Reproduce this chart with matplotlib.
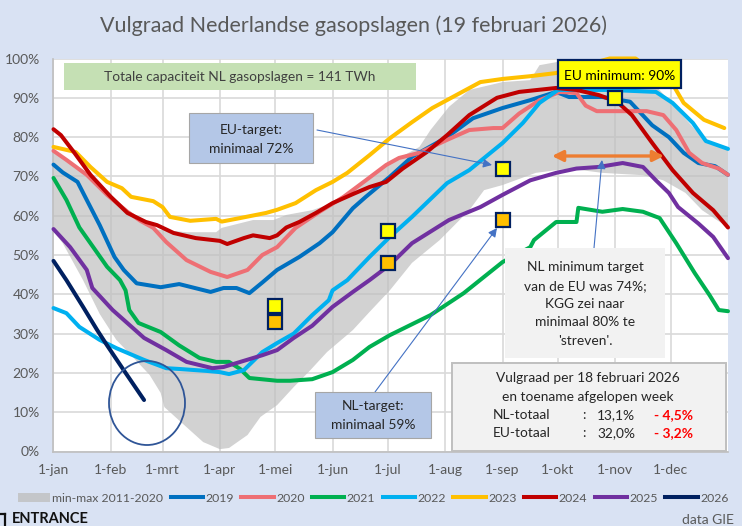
import numpy as np
import matplotlib
matplotlib.use('Agg')
import matplotlib.pyplot as plt
from matplotlib.patches import Rectangle, Ellipse
from matplotlib.lines import Line2D

## -- DATA -- ##

month_days = [0, 31, 59, 90, 120, 151, 181, 212, 243, 273, 304, 334]
month_labels = ['1-jan', '1-feb', '1-mrt', '1-apr', '1-mei', '1-jun', '1-jul', '1-aug', '1-sep', '1-okt', '1-nov', '1-dec']
pct_ticks = [0, 10, 20, 30, 40, 50, 60, 70, 80, 90, 100]

band_up_d = [0, 18, 40, 56, 72, 88, 91, 108, 119, 126, 140, 151, 160, 171, 182, 198, 204, 214, 225, 243, 258, 263, 283, 300, 315, 324, 333, 344, 353, 365]
band_up_v = [76, 71, 61.5, 56.5, 55.8, 55.8, 56.9, 58.9, 58.9, 60.2, 61.4, 63.2, 65.8, 70, 73.4, 77.5, 81.8, 87.7, 92, 94, 94.5, 98.3, 100, 98, 96, 94, 89.4, 83.6, 79, 76.7]
band_lo_d = [0, 5, 16, 25, 34, 43, 52, 58, 60, 72, 81, 90, 95, 105, 112, 121, 130, 139, 148, 162, 171, 182, 194, 209, 225, 233, 243, 261, 279, 297, 319, 330, 342, 351, 365]
band_lo_v = [56, 53, 43.6, 35, 28.4, 24, 19.5, 14.9, 11.3, 6.2, 2.4, 0.6, 0.9, 4.2, 8.8, 11.8, 16.4, 20.7, 25.3, 30.9, 35.5, 41, 48, 53.8, 61.4, 66.5, 67.8, 70.9, 72, 70.9, 70.3, 69, 65.8, 61.4, 57]

d_2019 = [0, 5, 13, 18, 25, 33, 38, 45, 58, 68, 85, 92, 99, 106, 113, 121, 133, 144, 151, 162, 169, 182, 194, 213, 227, 243, 258, 272, 279, 297, 312, 324, 333, 341, 349, 358, 365]
v_2019 = [73, 71, 68.6, 64, 57.6, 49.5, 46.2, 42.8, 41.8, 42.6, 40.6, 41.6, 41.6, 40.3, 43, 46.2, 49.5, 53, 55.8, 61.9, 64.8, 69.9, 75, 80, 84.8, 87.4, 89.4, 91.5, 90.2, 90.2, 89, 83, 80, 76, 73.4, 72.6, 70.4]

d_2020 = [0, 7, 18, 29, 40, 47, 54, 61, 72, 85, 94, 105, 113, 121, 131, 144, 157, 169, 180, 187, 198, 213, 225, 238, 243, 252, 263, 274, 283, 288, 294, 305, 321, 330, 337, 344, 351, 360, 365]
v_2020 = [76.5, 74.2, 70.4, 65.3, 61, 58.7, 56.9, 53.3, 48.7, 45.7, 44.4, 46.2, 50, 52, 56.9, 61, 64.8, 69, 72.9, 74.7, 76, 79.3, 81.8, 82.3, 82.3, 86, 89.4, 91.5, 91.2, 88, 86.6, 86.6, 86.6, 85.6, 81.8, 76, 73.4, 72, 70.4]

d_2021 = [0, 7, 14, 20, 29, 36, 39, 41, 46, 58, 68, 79, 88, 95, 101, 106, 121, 128, 140, 151, 162, 171, 182, 204, 222, 243, 258, 260, 272, 283, 284, 297, 308, 319, 328, 337, 347, 355, 360, 365]
v_2021 = [69.6, 64, 57, 53, 47, 43.6, 41, 36, 32.7, 30.4, 27, 23.8, 22.8, 22.8, 21, 18.7, 18, 18, 18.4, 20.2, 23.3, 26.6, 29.6, 34.7, 40.3, 48.2, 52, 53.8, 58.4, 58.4, 62, 61, 61.7, 61, 59.4, 53, 45.4, 39.8, 36, 35.7]

d_2022 = [0, 7, 14, 25, 34, 49, 61, 68, 83, 90, 95, 103, 113, 121, 130, 140, 149, 151, 159, 171, 182, 194, 213, 225, 243, 254, 263, 273, 279, 301, 326, 335, 346, 353, 365]
v_2022 = [36.5, 35.2, 31.7, 28.4, 26.3, 23.3, 21.2, 21, 20.5, 20.2, 19.7, 20.7, 25.3, 27.6, 30, 34.7, 38.5, 41, 43.6, 49.5, 54.6, 59.7, 68.3, 71.6, 78.5, 83.6, 88.7, 92, 92, 92, 91.5, 88.7, 83.6, 79, 77]

d_2023 = [0, 12, 20, 29, 37, 42, 54, 59, 63, 74, 88, 91, 101, 115, 121, 131, 142, 151, 159, 171, 182, 194, 205, 218, 231, 243, 258, 272, 301, 315, 336, 341, 352, 363]
v_2023 = [77.5, 76.2, 72.4, 68.6, 67, 64.8, 63.7, 62.2, 59.7, 58.7, 59.2, 58.5, 59.4, 60.7, 61.5, 63.2, 66.5, 68.6, 70.9, 75.4, 79.7, 83.8, 87.4, 90.7, 94, 94.8, 95.5, 96.3, 100, 100, 92.7, 88.7, 84.4, 82.3]

d_2024 = [0, 4, 11, 20, 31, 40, 50, 56, 65, 77, 90, 94, 103, 108, 117, 121, 126, 133, 142, 151, 162, 171, 180, 189, 202, 213, 225, 240, 252, 272, 283, 295, 305, 313, 324, 335, 346, 357, 365]
v_2024 = [82, 80.5, 76.2, 70.4, 64.8, 60.7, 58.4, 57.6, 55.6, 54.3, 53.6, 52.8, 54.3, 55, 54.3, 55, 57, 58.4, 60.7, 63.2, 65.5, 67.3, 68.6, 72, 76.2, 80.5, 85.6, 90, 91.5, 92.5, 92, 90.7, 89, 85.6, 78.5, 71.6, 65.8, 61.4, 57]

d_2025 = [0, 9, 18, 21, 32, 49, 61, 72, 86, 92, 99, 113, 121, 130, 140, 151, 162, 171, 182, 194, 214, 231, 243, 258, 272, 283, 295, 308, 319, 326, 333, 338, 349, 357, 365]
v_2025 = [56.6, 52, 46.2, 41.6, 36, 28.9, 25.8, 22.8, 21.2, 21.5, 22.5, 24.5, 25.8, 28.9, 32, 36.8, 40.6, 43.6, 47.5, 53, 58.9, 62.2, 65.3, 69, 70.9, 72, 72.4, 73.4, 72.4, 69, 65.8, 62.2, 58, 54.6, 49.2]

d_2026 = [0, 7, 16, 23.5, 29, 38, 49]
v_2026 = [48.5, 43.6, 36.8, 31, 27, 20.7, 13.1]

eu_target_d = [120, 181, 243, 304]
eu_target_v = [37, 56, 72, 90]
nl_target_d = [120, 181, 243]
nl_target_v = [33, 48, 59]

series = [('2019', d_2019, v_2019, '#0070C0'), ('2020', d_2020, v_2020, '#EE6F74'),
          ('2021', d_2021, v_2021, '#00B050'), ('2022', d_2022, v_2022, '#00B0F0'),
          ('2023', d_2023, v_2023, '#FFC000'), ('2024', d_2024, v_2024, '#C00000'),
          ('2025', d_2025, v_2025, '#7030A0'), ('2026', d_2026, v_2026, '#002060')]

## -- FIGUUR -- ##

W, H = 742, 526
plt.rcParams['font.family'] = ['Lato', 'DejaVu Sans']
BG = '#D9E2F3'
GREY = '#595959'
NAVY = '#002060'

fig = plt.figure(figsize=(W / 100, H / 100), dpi=100, facecolor=BG)
ax = fig.add_axes([53.5 / W, 1 - 451.5 / H, 674.5 / W, 393 / H], facecolor='white')

ax.fill(band_up_d + band_lo_d[::-1], band_up_v + band_lo_v[::-1], color='#BFBFBF', alpha=0.7, lw=0, zorder=2, label='min-max 2011-2020')
for name, d, v, col in series:
    ax.plot(d, v, color=col, lw=2.9, solid_capstyle='round', solid_joinstyle='round', zorder=3, clip_on=False, label=name)

ax.plot(eu_target_d, eu_target_v, ls='none', marker='s', ms=10, mfc='#FFFF00', mec=NAVY, mew=1.6, zorder=5, clip_on=False)
ax.plot(nl_target_d, nl_target_v, ls='none', marker='s', ms=10, mfc='#FFC000', mec=NAVY, mew=1.6, zorder=5, clip_on=False)

ax.set_xlim(0, 365)
ax.set_ylim(0, 100)
ax.set_xticks(month_days)
ax.set_xticklabels(month_labels)
ax.set_yticks(pct_ticks)
ax.set_yticklabels([str(p) + '%' for p in pct_ticks])
ax.tick_params(length=0, colors=GREY, labelsize=10)
ax.tick_params(axis='x', pad=9)
ax.tick_params(axis='y', pad=10)
ax.grid(True, color='#D9D9D9', lw=1.2, zorder=1)
ax.set_axisbelow(True)
for s in ['top', 'right']:
    ax.spines[s].set_visible(False)
for s in ['left', 'bottom']:
    ax.spines[s].set_color('#BFBFBF')
    ax.spines[s].set_linewidth(1.2)

fig.text(353 / W, 1 - 26 / H, 'Vulgraad Nederlandse gasopslagen (19 februari 2026)', ha='center', va='center', fontsize=15.5, color=GREY)

## -- VAKKEN EN TEKST (in pixels van het plaatje) -- ##

def box(x0, y0, x1, y1, fc, ec='none', lw=0, z=6):
    fig.add_artist(Rectangle((x0 / W, 1 - y1 / H), (x1 - x0) / W, (y1 - y0) / H, transform=fig.transFigure, fc=fc, ec=ec, lw=lw, zorder=z))

def txt(x, y, s, ha='center', color='#262626', size=9.9, weight='normal'):
    fig.text(x / W, 1 - y / H, s, ha=ha, va='center', color=color, fontsize=size, fontweight=weight, zorder=8)

def arrow(x0, y0, x1, y1, col='#4472C4', lw=0.8, style='-|>', ms=13):
    ax.annotate('', xy=(x1 / W, 1 - y1 / H), xytext=(x0 / W, 1 - y0 / H), xycoords='figure fraction', textcoords='figure fraction',
                arrowprops=dict(arrowstyle=style, color=col, lw=lw, mutation_scale=ms, shrinkA=0, shrinkB=0), zorder=4, annotation_clip=False)

box(64, 63, 416, 90, '#C5E0B4')
txt(240, 77, 'Totale capaciteit NL gasopslagen = 141 TWh', color='#404040')

box(189, 113, 313, 163, '#B4C7E7', '#A6A6A6', 0.8)
txt(251, 130, 'EU-target:')
txt(251, 149, 'minimaal 72%')
arrow(317, 130, 492, 165)

box(315, 392, 431, 438, '#B4C7E7', '#A6A6A6', 0.8)
txt(373, 406, 'NL-target:')
txt(373, 425, 'minimaal 59%')
arrow(375, 392, 497, 228)

box(558, 60, 681, 88, '#FFFF00', NAVY, 1.6)
txt(620, 76, 'EU minimum: 90%', color='black')

arrow(552, 156, 664, 156, col='#ED7D31', lw=2.4, style='<|-|>', ms=16)
arrow(594, 248, 602, 160)

box(505, 248, 665, 358, '#F2F2F2')
for y, s in zip([267, 286, 304, 322, 341], ['NL minimum target', 'van de EU was 74%;', 'KGG zei naar', 'minimaal 80% te', "'streven'."]):
    txt(585, y, s)

box(452, 363, 726, 451, '#F2F2F2', '#BFBFBF', 1.4)
txt(588, 378, 'Vulgraad per 18 februari 2026')
txt(588, 397, 'en toename afgelopen week')
for y, a, b, c in [(415, 'NL-totaal', '13,1%', '- 4,5%'), (433, 'EU-totaal', '32,0%', '- 3,2%')]:
    txt(493, y, a, ha='left')
    txt(584, y, ':')
    txt(597, y, b, ha='left')
    txt(654, y, c, ha='left', color='#FF0000', weight='bold')

fig.add_artist(Ellipse((147 / W, 1 - 403 / H), 76 / W, 84 / H, transform=fig.transFigure, fc='none', ec='#2F5597', lw=1.3, zorder=7))

## -- LEGENDA EN VOETTEKST -- ##

handles = [Rectangle((0, 0), 1, 1, fc='#BFBFBF', alpha=0.8, lw=0)]
labels = ['min-max 2011-2020']
for name, d, v, col in series:
    handles.append(Line2D([], [], color=col, lw=2.9))
    labels.append(name)
fig.legend(handles, labels, ncol=9, loc='center', bbox_to_anchor=(373 / W, 1 - 498 / H), frameon=False, fontsize=8.8, labelcolor=GREY,
           handlelength=2.65, handletextpad=0.2, columnspacing=0.6, borderpad=0, borderaxespad=0)

txt(12, 519, 'ENTRANCE', ha='left', color='#111111', size=10.5, weight='bold')
fig.add_artist(Line2D([0, 5 / W], [1 - 514 / H, 1 - 514 / H], color='#111111', lw=1.6, transform=fig.transFigure))
fig.add_artist(Line2D([4.5 / W, 4.5 / W], [1 - 514 / H, 0], color='#111111', lw=1.6, transform=fig.transFigure))
txt(734, 520, 'data GIE', ha='right', color=GREY, size=10)

fig.savefig('out.png', dpi=100, facecolor=BG)
